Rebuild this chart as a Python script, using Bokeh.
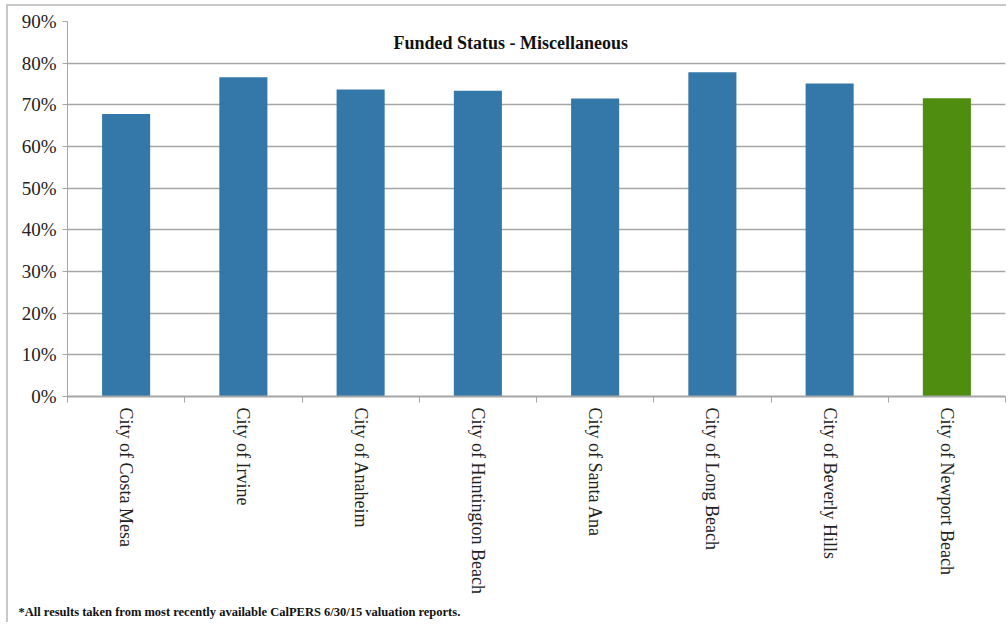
import math
from bokeh.plotting import figure
from bokeh.models import ColumnDataSource, FixedTicker, Label, NumeralTickFormatter, Title
from bokeh.embed import file_html
from bokeh.resources import INLINE

cities = ["City of Costa Mesa", "City of Irvine", "City of Anaheim", "City of Huntington Beach",
          "City of Santa Ana", "City of Long Beach", "City of Beverly Hills", "City of Newport Beach"]
funded = [0.678, 0.766, 0.737, 0.734, 0.715, 0.778, 0.751, 0.716]
bar_colors = ["#3478AA"] * 7 + ["#4E8D0F"]
y_ticks = [0.0, 0.1, 0.2, 0.3, 0.4, 0.5, 0.6, 0.7, 0.8, 0.9]
title_text = "Funded Status - Miscellaneous"
footnote = "*All results taken from most recently available CalPERS 6/30/15 valuation reports."

n = len(cities)
centers = [i + 0.5 for i in range(n)]
bounds = list(range(n + 1))
src = ColumnDataSource(dict(x=centers, top=funded, color=bar_colors, name=cities))

p = figure(width=1000, height=618, x_range=(0, n), y_range=(0, 0.9),
           output_backend="svg", toolbar_location=None,
           min_border_left=59, min_border_right=3, min_border_top=15, min_border_bottom=227)
p.styles = {"margin-left": "6px", "margin-top": "4px",
            "border-left": "2px solid #C8C8C8", "border-top": "2px solid #C8C8C8"}
p.outline_line_color = None
p.background_fill_color = "white"
p.border_fill_color = "white"

p.vbar(x="x", top="top", width=0.41, bottom=0, fill_color="color", line_color=None, source=src)

serif = "Liberation Serif"
gray = "#A6A6A6"

# y axis
p.yaxis.ticker = FixedTicker(ticks=y_ticks)
p.yaxis.formatter = NumeralTickFormatter(format="0%")
p.yaxis.axis_line_color = gray
p.yaxis.major_tick_line_color = gray
p.yaxis.major_tick_out = 5
p.yaxis.major_tick_in = 0
p.yaxis.minor_tick_line_color = None
p.yaxis.major_label_text_font = serif
p.yaxis.major_label_text_font_size = "19px"
p.yaxis.major_label_text_color = "#222222"
p.yaxis.major_label_standoff = 6

# x axis: labels at centers, tick marks at boundaries (minor ticks)
p.xaxis.ticker = FixedTicker(ticks=centers, minor_ticks=bounds)
p.xaxis.major_label_overrides = {c: name for c, name in zip(centers, cities)}
p.xaxis.major_label_orientation = -math.pi / 2
p.xaxis.major_tick_line_color = None
p.xaxis.minor_tick_line_color = gray
p.xaxis.minor_tick_out = 6
p.xaxis.minor_tick_in = 0
p.xaxis.axis_line_color = gray
p.xaxis.axis_line_width = 2
p.xaxis.major_label_text_font = serif
p.xaxis.major_label_text_font_size = "18px"
p.xaxis.major_label_text_color = "#222222"
p.xaxis.major_label_standoff = 5

p.xgrid.grid_line_color = None
p.ygrid.ticker = FixedTicker(ticks=y_ticks)
p.ygrid.grid_line_color = gray
p.ygrid.grid_line_width = 1.3

p.add_layout(Label(x=3.78, y=0.9, y_offset=-21, text=title_text, text_font=serif, text_font_style="bold",
                   text_font_size="18px", text_align="center", text_baseline="alphabetic", text_color="#111111"))
p.add_layout(Title(text=footnote, align="left", offset=-49, standoff=12,
                   text_font=serif, text_font_style="bold", text_font_size="12.5px",
                   text_color="#111111"), "below")

open("out.html", "w").write(file_html(p, INLINE))
